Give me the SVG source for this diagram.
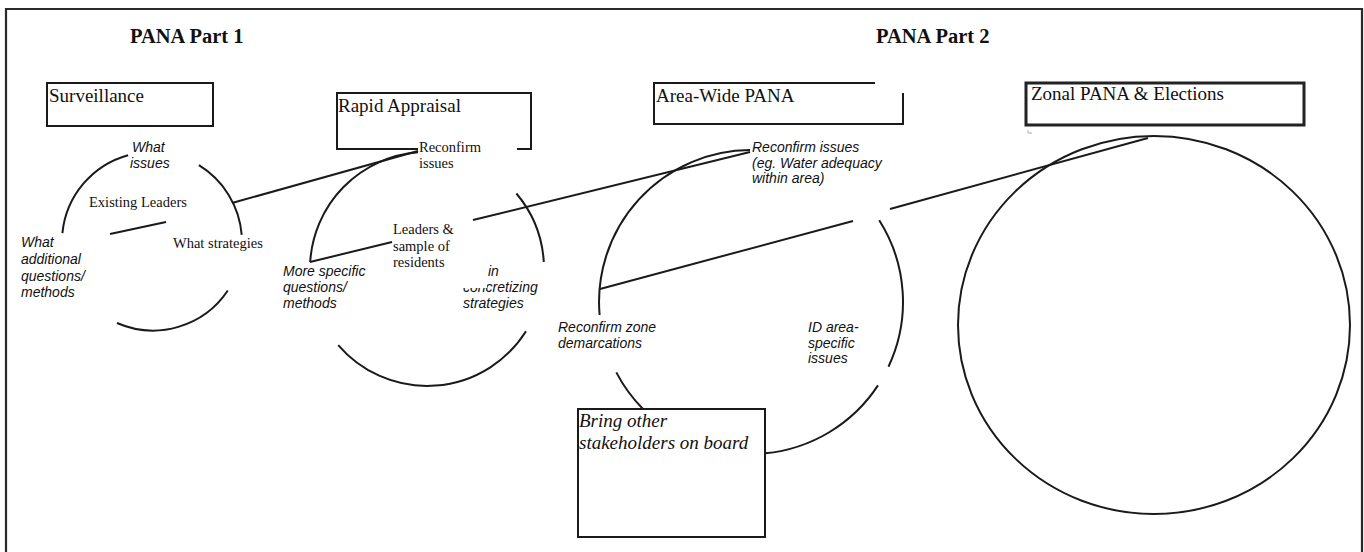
<svg xmlns="http://www.w3.org/2000/svg" width="1364" height="552" viewBox="0 0 1364 552">
  <style>
    .frame { fill: none; stroke: #2a2a2a; stroke-width: 2.2; }
    .box { fill: none; stroke: #1a1a1a; stroke-width: 2; }
    .boxthick { fill: none; stroke: #222; stroke-width: 3; }
    .arc { fill: none; stroke: #1a1a1a; stroke-width: 2; }
    .link { fill: none; stroke: #1a1a1a; stroke-width: 2; }
    .head { font-family: "Liberation Serif", "Times New Roman", serif; font-weight: bold; font-size: 20.5px; fill: #111; }
    .title { font-family: "Liberation Serif", "Times New Roman", serif; font-size: 19px; fill: #111; }
    .serif { font-family: "Liberation Serif", "Times New Roman", serif; font-size: 14.5px; fill: #111; }
    .note { font-family: "Liberation Sans", Arial, sans-serif; font-style: italic; font-size: 14px; fill: #111; }
    .itserif { font-family: "Liberation Serif", "Times New Roman", serif; font-style: italic; font-size: 19px; fill: #111; }
  </style>

  <rect width="1364" height="552" fill="#ffffff"/>

  <!-- page frame (open at the bottom) -->
  <path class="frame" d="M6,552 V9 H1362 V552"/>

  <!-- phase headings -->
  <text class="head" x="130" y="43">PANA Part 1</text>
  <text class="head" x="876" y="43">PANA Part 2</text>

  <!-- Surveillance stage -->
  <g id="surveillance">
    <rect class="box" x="47" y="83" width="166" height="43"/>
    <text class="title" x="49" y="102">Surveillance</text>
    <path class="arc" d="M128.1,155.2 A90,90 0 0 0 62.4,233.1"/>
    <path class="arc" d="M198.9,165.2 A90,90 0 0 1 241.7,234.9"/>
    <path class="arc" d="M227.8,290.5 A90,90 0 0 1 117,323"/>
    <text class="note" x="132" y="152">What</text>
    <text class="note" x="130" y="168">issues</text>
    <text class="serif" x="89" y="207">Existing Leaders</text>
    <text class="serif" x="173" y="248">What strategies</text>
    <text class="note" x="21" y="247">What</text>
    <text class="note" x="21" y="263.5">additional</text>
    <text class="note" x="21" y="280.5">questions/</text>
    <text class="note" x="21" y="297">methods</text>
  </g>

  <!-- Rapid Appraisal stage -->
  <g id="rapid-appraisal">
    <path class="box" d="M418,149 H337 V93 H531 V149 H517"/>
    <text class="title" x="338" y="112">Rapid Appraisal</text>
    <path class="arc" d="M418,152.3 A117,117 0 0 0 310.2,262.1"/>
    <path class="arc" d="M516.4,193.5 A117,117 0 0 1 543.8,262"/>
    <path class="arc" d="M526,331.3 A117,117 0 0 1 338.2,345.1"/>
    <text class="serif" x="419" y="152">Reconfirm</text>
    <text class="serif" x="419" y="168">issues</text>
    <text class="serif" x="393" y="234">Leaders &amp;</text>
    <text class="serif" x="393" y="250.5">sample of</text>
    <text class="serif" x="393" y="267">residents</text>
    <text class="note" x="283" y="276">More specific</text>
    <text class="note" x="283" y="292">questions/</text>
    <text class="note" x="283" y="307.5">methods</text>
    <text class="note" x="488" y="276">in</text>
    <text class="note" x="463" y="292">concretizing</text>
    <text class="note" x="463" y="307.5">strategies</text>
    <!-- upper part of the first letters is blanked out -->
    <rect x="461" y="277" width="26" height="11" fill="#ffffff"/>
  </g>

  <!-- Area-wide PANA stage -->
  <g id="area-wide-pana">
    <path class="box" d="M875,83 H654 V124 H903 V93"/>
    <text class="title" x="656" y="102">Area-Wide PANA</text>
    <path class="arc" d="M750,150 A152,152 0 0 0 599.6,315"/>
    <path class="arc" d="M879.2,220.3 A152,152 0 0 1 888.5,366.7"/>
    <path class="arc" d="M878,385.4 A152,152 0 0 1 765,453.3"/>
    <path class="arc" d="M643,409 A152,152 0 0 1 616.3,372.4"/>
    <text class="note" x="752" y="152">Reconfirm issues</text>
    <text class="note" x="752" y="167.5">(eg. Water adequacy</text>
    <text class="note" x="752" y="183">within area)</text>
    <text class="note" x="558" y="332">Reconfirm zone</text>
    <text class="note" x="558" y="347.5">demarcations</text>
    <text class="note" x="808" y="332">ID area-</text>
    <text class="note" x="808" y="347.5">specific</text>
    <text class="note" x="808" y="363">issues</text>
  </g>

  <!-- stakeholder box -->
  <g id="stakeholders">
    <rect class="box" x="578" y="409" width="187" height="128"/>
    <text class="itserif" x="579" y="427">Bring other</text>
    <text class="itserif" x="579" y="449">stakeholders on board</text>
  </g>

  <!-- Zonal PANA stage -->
  <g id="zonal-pana">
    <rect class="boxthick" x="1026" y="83" width="278" height="42"/>
    <text class="title" x="1031" y="100" fill="#333">Zonal PANA &amp; Elections</text>
    <path d="M1028,130 V133 H1032" fill="none" stroke="#999" stroke-width="0.8"/>
    <ellipse class="arc" cx="1154" cy="325" rx="196" ry="189"/>
  </g>

  <!-- connectors between the stages -->
  <g id="connectors">
    <line class="link" x1="110" y1="234" x2="166" y2="222"/>
    <line class="link" x1="232" y1="203" x2="418" y2="151"/>
    <line class="link" x1="310" y1="262" x2="392" y2="242"/>
    <line class="link" x1="473" y1="220" x2="750" y2="152"/>
    <line class="link" x1="600" y1="289" x2="853" y2="221"/>
    <line class="link" x1="890" y1="209" x2="1148" y2="138"/>
  </g>
</svg>
